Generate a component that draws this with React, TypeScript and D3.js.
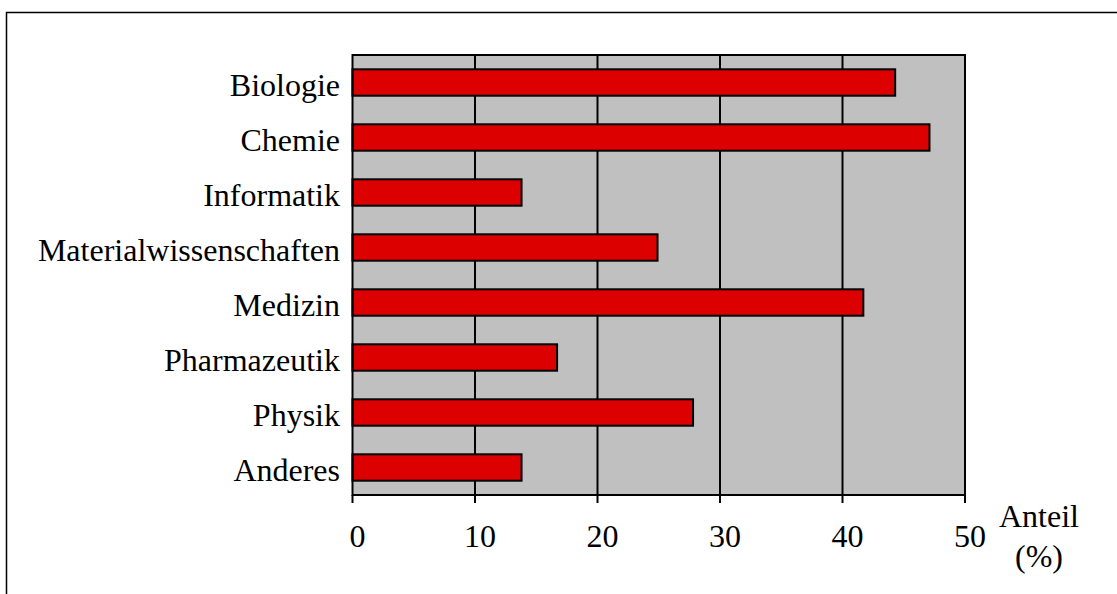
import React from "react";
import * as d3 from "d3";

const categories = [
  "Biologie",
  "Chemie",
  "Informatik",
  "Materialwissenschaften",
  "Medizin",
  "Pharmazeutik",
  "Physik",
  "Anderes",
];
const values = [44.3, 47.1, 13.8, 24.9, 41.7, 16.7, 27.8, 13.8];
const xTicks = [0, 10, 20, 30, 40, 50];
const axisTitle = ["Anteil", "(%)"];

const W = 1117;
const H = 594;
const FONT = "'Liberation Serif', 'Times New Roman', serif";

export default function App() {
  const left = 352.5;
  const right = 965;
  const top = 55;
  const bottom = 495;
  const x = d3.scaleLinear().domain([0, 50]).range([left, right]);
  const y = d3
    .scaleBand<string>()
    .domain(categories)
    .range([top, bottom])
    .paddingInner(0.52)
    .paddingOuter(0.26);
  const fs = 32;

  return (
    <svg
      width={W}
      height={H}
      style={{ position: "absolute", left: 0, top: 0, display: "block", background: "#fff" }}
    >
      <rect x={6.5} y={12.5} width={1300} height={800} fill="#fff" stroke="#000" strokeWidth={1.5} />
      <rect x={left} y={top} width={right - left} height={bottom - top} fill="#c0c0c0" />
      {xTicks.slice(1, -1).map((t) => (
        <line key={"g" + t} x1={x(t)} x2={x(t)} y1={top} y2={bottom} stroke="#000" strokeWidth={2} />
      ))}
      {categories.map((c, i) => (
        <rect
          key={c}
          x={x(0)}
          y={y(c)}
          width={x(values[i]) - x(0)}
          height={y.bandwidth()}
          fill="#dd0000"
          stroke="#000"
          strokeWidth={2}
        />
      ))}
      <rect x={left} y={top} width={right - left} height={bottom - top} fill="none" stroke="#000" strokeWidth={2} />
      {xTicks.map((t) => (
        <g key={"t" + t}>
          <line x1={x(t)} x2={x(t)} y1={bottom} y2={bottom + 8} stroke="#000" strokeWidth={2} />
          <text
            x={x(t) + 5}
            y={547}
            textAnchor="middle"
            fontFamily={FONT}
            fontSize={fs}
            fill="#000"
          >
            {t}
          </text>
        </g>
      ))}
      {categories.map((c) => (
        <text
          key={"l" + c}
          x={340}
          y={(y(c) as number) + y.bandwidth() / 2 + 13}
          textAnchor="end"
          fontFamily={FONT}
          fontSize={fs}
          fill="#000"
        >
          {c}
        </text>
      ))}
      <text x={1039} y={527} textAnchor="middle" fontFamily={FONT} fontSize={fs} fill="#000">
        {axisTitle[0]}
      </text>
      <text x={1039} y={567} textAnchor="middle" fontFamily={FONT} fontSize={fs} fill="#000">
        {axisTitle[1]}
      </text>
    </svg>
  );
}
